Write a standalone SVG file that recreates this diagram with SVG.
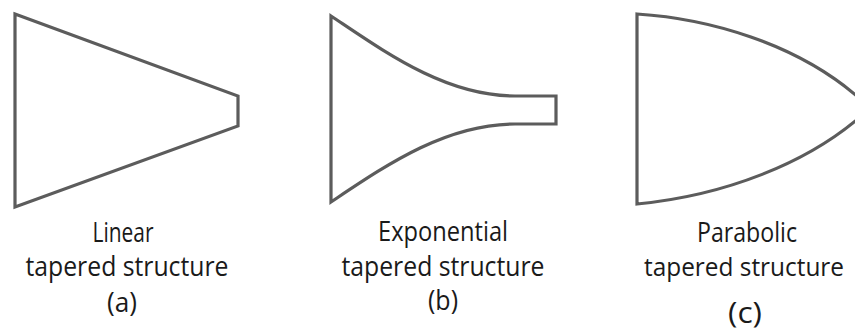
<svg xmlns="http://www.w3.org/2000/svg" width="855" height="332" viewBox="0 0 855 332">
<style>
.shape{fill:none;stroke:#5c5c5c;stroke-width:3.2;stroke-linejoin:miter}
.lbl{font-family:"Open Sans","Liberation Sans",sans-serif;font-size:27px;fill:#1a1a1a;text-anchor:middle}
</style>
<rect width="855" height="332" fill="#ffffff"/>
<g id="linear">
<path class="shape" d="M15,14 L238,96 L238,126 L15,207 Z"/>
<text class="lbl" x="123" y="242" textLength="61" lengthAdjust="spacingAndGlyphs">Linear</text>
<text class="lbl" x="127" y="276" textLength="203" lengthAdjust="spacingAndGlyphs">tapered structure</text>
<text class="lbl" x="122" y="312" textLength="30" lengthAdjust="spacingAndGlyphs">(a)</text>
</g>
<g id="exponential">
<path class="shape" d="M331,16 C385,52 445,96 515,96 L556,96 L556,124 L515,124 C445,124 385,166 331,202 Z"/>
<text class="lbl" x="443" y="241" textLength="130" lengthAdjust="spacingAndGlyphs">Exponential</text>
<text class="lbl" x="443" y="276" textLength="203" lengthAdjust="spacingAndGlyphs">tapered structure</text>
<text class="lbl" x="443" y="310" textLength="30" lengthAdjust="spacingAndGlyphs">(b)</text>
</g>
<g id="parabolic">
<path class="shape" d="M637,14 C700,18 800,40 870,108 C810,165 720,196 637,204 Z"/>
<text class="lbl" x="747" y="242" textLength="100" lengthAdjust="spacingAndGlyphs">Parabolic</text>
<text class="lbl" x="744" y="276" style="font-size:25.5px" textLength="200" lengthAdjust="spacingAndGlyphs">tapered structure</text>
<text class="lbl" x="745" y="323" style="font-size:29px" textLength="34" lengthAdjust="spacingAndGlyphs">(c)</text>
</g>
<g id="connectors"></g>
</svg>
